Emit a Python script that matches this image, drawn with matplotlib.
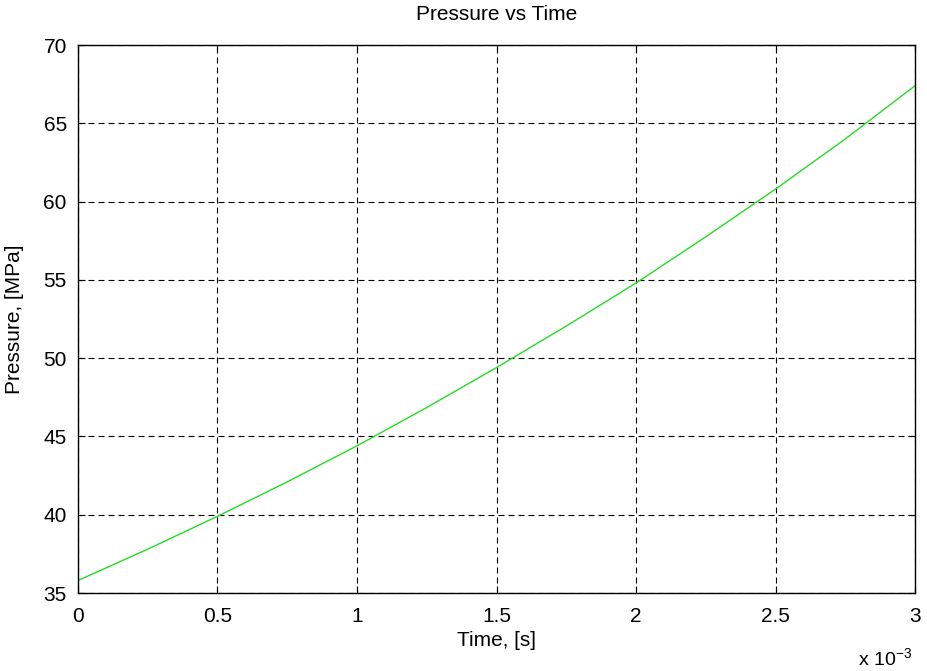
import numpy as np
import matplotlib.pyplot as plt

plt.rcParams['font.family'] = ['Liberation Sans', 'DejaVu Sans']
plt.rcParams['mathtext.default'] = 'regular'

# time in units of 1e-3 s, pressure in MPa
time_ms = [0, 0.25, 0.5, 0.75, 1.0, 1.25, 1.5, 1.75, 2.0, 2.25, 2.5, 2.75, 3.0]
pressure = [35.8, 37.8, 39.9, 42.1, 44.4, 46.85, 49.4, 52.05, 54.8, 57.75, 60.8, 64.0, 67.4]

x_ticks = [0, 0.5, 1, 1.5, 2, 2.5, 3]
x_labels = ['0', '0.5', '1', '1.5', '2', '2.5', '3']
y_ticks = [35, 40, 45, 50, 55, 60, 65, 70]

fig = plt.figure(figsize=(9.27, 6.71), dpi=100)
ax = fig.add_axes([0.0841, 0.1162, 0.903, 0.8167])

ax.plot(time_ms, pressure, color='#22dd22', linewidth=1.0)

ax.set_xlim(0, 3)
ax.set_ylim(35, 70)
ax.set_xticks(x_ticks)
ax.set_xticklabels(x_labels)
ax.set_yticks(y_ticks)

ax.grid(color='black', linestyle=(0, (5.4, 3.6)), linewidth=0.8)
ax.tick_params(direction='in', top=True, right=True, labelsize=15, length=5)
ax.tick_params(axis='x', pad=10)
ax.tick_params(axis='y', pad=8)
for s in ax.spines.values():
    s.set_linewidth(1.0)

ax.set_title('Pressure vs Time', fontsize=15, pad=18)
ax.set_xlabel('Time, [s]', fontsize=15, labelpad=4)
ax.set_ylabel('Pressure, [MPa]', fontsize=15, labelpad=14)
ax.text(0.996, -0.118, r'x 10$^{-3}$', transform=ax.transAxes,
        ha='right', va='center', fontsize=14)

fig.savefig('out.png', dpi=100)
